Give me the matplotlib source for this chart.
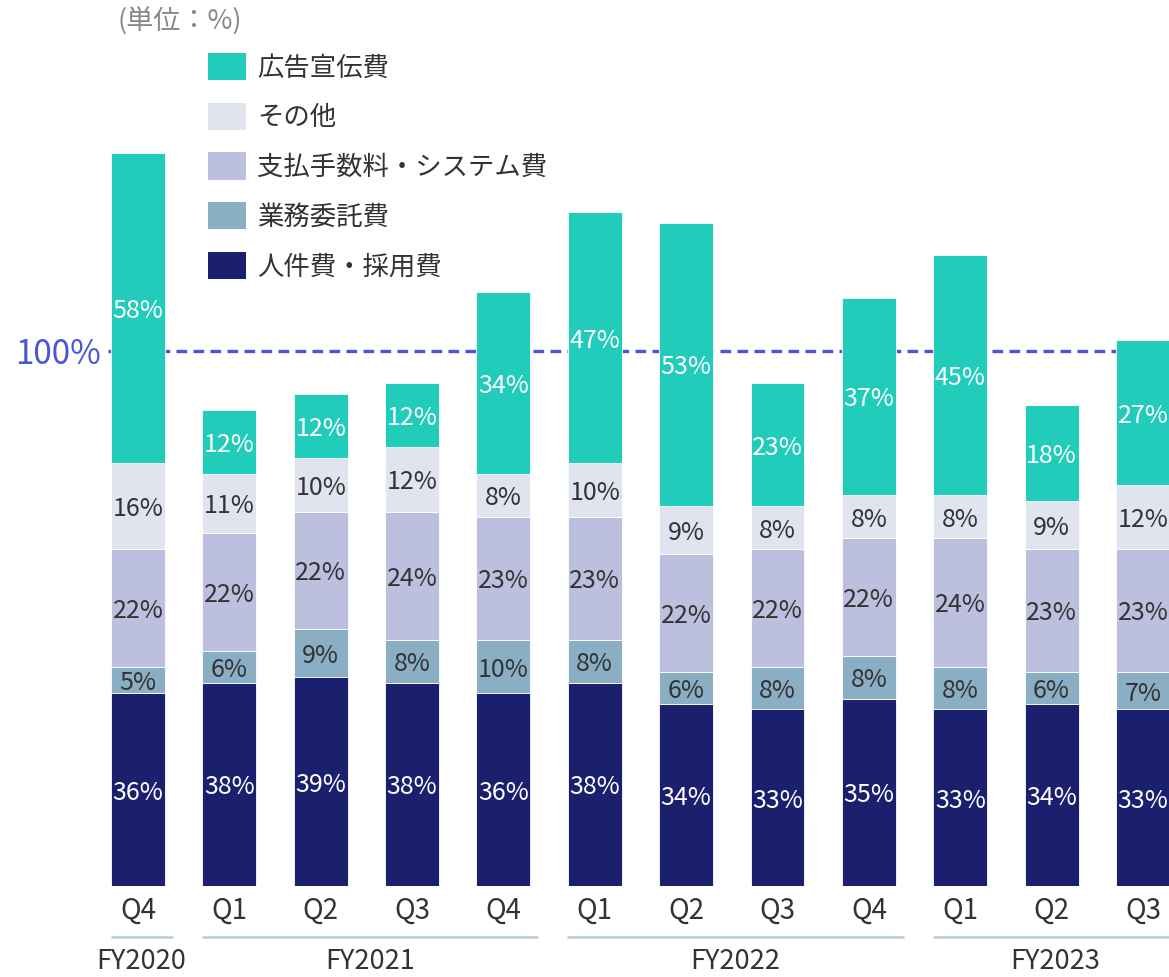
import matplotlib.pyplot as plt
from matplotlib.patches import Patch

plt.rcParams['font.family'] = ['Noto Sans CJK JP', 'DejaVu Sans']

quarters = ['Q4', 'Q1', 'Q2', 'Q3', 'Q4', 'Q1', 'Q2', 'Q3', 'Q4', 'Q1', 'Q2', 'Q3']

# stack order from bottom to top
jinken = [36, 38, 39, 38, 36, 38, 34, 33, 35, 33, 34, 33]
gyomu = [5, 6, 9, 8, 10, 8, 6, 8, 8, 8, 6, 7]
shiharai = [22, 22, 22, 24, 23, 23, 22, 22, 22, 24, 23, 23]
sonota = [16, 11, 10, 12, 8, 10, 9, 8, 8, 8, 9, 12]
kokoku = [58, 12, 12, 12, 34, 47, 53, 23, 37, 45, 18, 27]

series_names = ['人件費・採用費', '業務委託費', '支払手数料・システム費', 'その他', '広告宣伝費']
series_colors = ['#1b206e', '#8aaec4', '#bcc0de', '#dfe4ee', '#21ccba']
text_colors = ['white', '#333333', '#333333', '#333333', 'white']

fiscal_years = ['FY2020', 'FY2021', 'FY2022', 'FY2023']
group_first = [0, 1, 5, 9]
group_last = [0, 4, 8, 11]

W, H = 1169, 977
base_px = 886
px_per_pct = 5.35
bar_step = 91.36
first_center = 138

fig = plt.figure(figsize=(W / 100, H / 100), dpi=100)
ax = fig.add_axes([0, (H - base_px) / H, 1, base_px / H])
ax.set_ylim(0, base_px / px_per_pct)
ax.set_xlim(-first_center / bar_step, (W - first_center) / bar_step)
for s in ax.spines.values():
    s.set_visible(False)
ax.set_yticks([])

x = list(range(len(quarters)))
bottom = [0] * len(quarters)
series = [jinken, gyomu, shiharai, sonota, kokoku]
handles = []
for vals, name, col, tcol in zip(series, series_names, series_colors, text_colors):
    ax.bar(x, vals, bottom=bottom, width=0.59, color=col, edgecolor='white',
           linewidth=0.6, zorder=3)
    for i, v in enumerate(vals):
        ax.text(i, bottom[i] + v / 2, f'{v}%', ha='center', va='center_baseline',
                color=tcol, fontsize=18, zorder=4)
    bottom = [b + v for b, v in zip(bottom, vals)]
    handles.append(Patch(facecolor=col, label=name))

# 100% reference line
ax.plot([-0.33, ax.get_xlim()[1]], [100, 100], color='#4a55d8', lw=2.4,
        dashes=(3.2, 1.9), zorder=2)
ax.text(-0.88, 100, '100%', color='#4a55d8', fontsize=24, ha='center',
        va='center_baseline')

ax.set_xticks(x, quarters)
ax.tick_params(axis='x', length=0, pad=18, labelsize=20, labelcolor='#333333')
for lab in ax.get_xticklabels():
    lab.set_va('center')

# fiscal year groups
for name, a, b in zip(fiscal_years, group_first, group_last):
    ax.plot([a - 0.3, b + 0.38], [-51 / px_per_pct] * 2, color='#bcd0dc', lw=2,
            clip_on=False, solid_capstyle='butt')
    ax.text((a - 0.3 + b + 0.38) / 2, -83 / px_per_pct, name, ha='center',
            va='baseline', fontsize=19.5, color='#333333', clip_on=False)

fig.text(117 / W, 1 - 22 / H, '(単位：%)', color='#888888', fontsize=19.5,
         ha='left', va='center')

leg = fig.legend(handles=handles[::-1], loc='upper left',
                 bbox_to_anchor=(208 / W, 1 - 53 / H), frameon=False,
                 fontsize=19, handlelength=1.45, handleheight=1.22,
                 handletextpad=0.42, labelspacing=0.8, borderpad=0,
                 borderaxespad=0)
for t in leg.get_texts():
    t.set_color('#333333')

fig.savefig('out.png', dpi=100)
